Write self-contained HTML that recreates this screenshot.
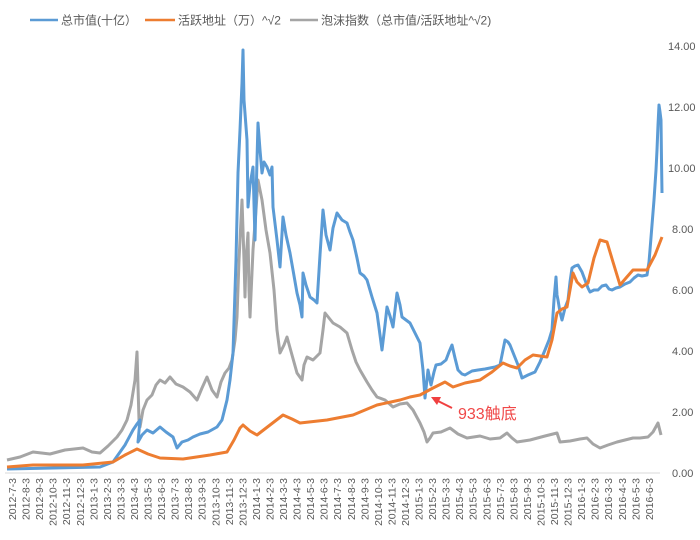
<!DOCTYPE html>
<html><head><meta charset="utf-8"><style>
body{margin:0;background:#fff;width:700px;height:540px;overflow:hidden}
svg{display:block}
text{font-family:"Liberation Sans","Noto Sans CJK SC",sans-serif}
</style></head><body>
<svg width="700" height="540" viewBox="0 0 700 540">
<g font-size="12" fill="#595959">
<line x1="30" y1="20" x2="58" y2="20" stroke="#5b9bd5" stroke-width="2.5"/>
<text x="61" y="24.5">总市值(十亿）</text>
<line x1="145" y1="20" x2="175" y2="20" stroke="#ed7d31" stroke-width="2.5"/>
<text x="178" y="24.5">活跃地址（万）^√2</text>
<line x1="290" y1="20" x2="318" y2="20" stroke="#a5a5a5" stroke-width="2.5"/>
<text x="321" y="24.5">泡沫指数（总市值/活跃地址^√2)</text>
</g>
<g font-size="11" fill="#595959" text-anchor="start">
<text x="668" y="50">14.00</text>
<text x="668" y="111">12.00</text>
<text x="668" y="172">10.00</text>
<text x="672" y="233">8.00</text>
<text x="672" y="294">6.00</text>
<text x="672" y="355">4.00</text>
<text x="672" y="416">2.00</text>
<text x="672" y="477">0.00</text>
</g>
<line x1="5" y1="473" x2="660" y2="473" stroke="#d9d9d9" stroke-width="1"/>
<g font-size="10.5" fill="#595959" text-anchor="end">
<text transform="translate(16,478) rotate(-90)">2012-7-3</text>
<text transform="translate(29.55,478) rotate(-90)">2012-8-3</text>
<text transform="translate(43.1,478) rotate(-90)">2012-9-3</text>
<text transform="translate(56.65,478) rotate(-90)">2012-10-3</text>
<text transform="translate(70.2,478) rotate(-90)">2012-11-3</text>
<text transform="translate(83.75,478) rotate(-90)">2012-12-3</text>
<text transform="translate(97.3,478) rotate(-90)">2013-1-3</text>
<text transform="translate(110.85,478) rotate(-90)">2013-2-3</text>
<text transform="translate(124.4,478) rotate(-90)">2013-3-3</text>
<text transform="translate(137.95,478) rotate(-90)">2013-4-3</text>
<text transform="translate(151.5,478) rotate(-90)">2013-5-3</text>
<text transform="translate(165.05,478) rotate(-90)">2013-6-3</text>
<text transform="translate(178.6,478) rotate(-90)">2013-7-3</text>
<text transform="translate(192.15,478) rotate(-90)">2013-8-3</text>
<text transform="translate(205.7,478) rotate(-90)">2013-9-3</text>
<text transform="translate(219.25,478) rotate(-90)">2013-10-3</text>
<text transform="translate(232.8,478) rotate(-90)">2013-11-3</text>
<text transform="translate(246.35,478) rotate(-90)">2013-12-3</text>
<text transform="translate(259.9,478) rotate(-90)">2014-1-3</text>
<text transform="translate(273.45,478) rotate(-90)">2014-2-3</text>
<text transform="translate(287,478) rotate(-90)">2014-3-3</text>
<text transform="translate(300.55,478) rotate(-90)">2014-4-3</text>
<text transform="translate(314.1,478) rotate(-90)">2014-5-3</text>
<text transform="translate(327.65,478) rotate(-90)">2014-6-3</text>
<text transform="translate(341.2,478) rotate(-90)">2014-7-3</text>
<text transform="translate(354.75,478) rotate(-90)">2014-8-3</text>
<text transform="translate(368.3,478) rotate(-90)">2014-9-3</text>
<text transform="translate(381.85,478) rotate(-90)">2014-10-3</text>
<text transform="translate(395.4,478) rotate(-90)">2014-11-3</text>
<text transform="translate(408.95,478) rotate(-90)">2014-12-3</text>
<text transform="translate(422.5,478) rotate(-90)">2015-1-3</text>
<text transform="translate(436.05,478) rotate(-90)">2015-2-3</text>
<text transform="translate(449.6,478) rotate(-90)">2015-3-3</text>
<text transform="translate(463.15,478) rotate(-90)">2015-4-3</text>
<text transform="translate(476.7,478) rotate(-90)">2015-5-3</text>
<text transform="translate(490.25,478) rotate(-90)">2015-6-3</text>
<text transform="translate(503.8,478) rotate(-90)">2015-7-3</text>
<text transform="translate(517.35,478) rotate(-90)">2015-8-3</text>
<text transform="translate(530.9,478) rotate(-90)">2015-9-3</text>
<text transform="translate(544.45,478) rotate(-90)">2015-10-3</text>
<text transform="translate(558,478) rotate(-90)">2015-11-3</text>
<text transform="translate(571.55,478) rotate(-90)">2015-12-3</text>
<text transform="translate(585.1,478) rotate(-90)">2016-1-3</text>
<text transform="translate(598.65,478) rotate(-90)">2016-2-3</text>
<text transform="translate(612.2,478) rotate(-90)">2016-3-3</text>
<text transform="translate(625.75,478) rotate(-90)">2016-4-3</text>
<text transform="translate(639.3,478) rotate(-90)">2016-5-3</text>
<text transform="translate(652.85,478) rotate(-90)">2016-6-3</text>
</g>
<polyline fill="none" stroke="#a5a5a5" stroke-width="3" stroke-linejoin="round" points="7,460 20,457 33,452 50,454 65,450 83,448 92,452 100,453 108,446 117,437 122,430 127,420 131,405 135,380 137,352 139,420 140,427 143,410 147,400 152,395 156,385 160,380 165,383 170,377 176,384 183,387 190,392 197,400 202,388 207,377 212,390 217,397 221,382 225,373 229,368 232,360 235,340 237,317 239,260 242,200 244,260 245,297 246,260 248,233 249,290 250,317 253,250 256,210 258,180 262,200 266,230 270,253 274,290 277,330 280,353 284,345 287,337 292,355 297,373 302,380 304,365 307,357 313,360 320,353 323,330 325,313 329,318 333,323 340,327 347,333 352,350 356,362 360,370 367,382 372,390 377,397 385,400 393,407 400,404 407,403 413,410 420,423 424,432 427,442 430,438 433,433 441,432 450,428 458,434 467,438 480,436 490,439 500,438 507,433 512,438 517,442 530,440 545,436 557,433 560,442 570,441 580,439 587,438 593,444 600,448 608,445 617,442 625,440 633,438 640,438 648,437 653,432 658,423 661,435"/>
<polyline fill="none" stroke="#5b9bd5" stroke-width="3" stroke-linejoin="round" points="7,469 100,467 113,462 125,445 133,430 137,424 140,420 138,442 142,435 147,430 153,433 160,427 166,432 173,437 177,448 182,442 188,440 193,437 200,434 208,432 217,427 222,420 227,400 230,380 233,353 236,260 238,173 240,130 242,83 243,50 244,100 247,140 248,207 250,185 253,167 255,240 257,160 258,123 260,150 262,173 264,162 267,167 270,175 272,167 273,207 277,240 280,267 283,217 286,235 290,253 293,270 297,293 300,305 302,317 303,273 306,285 310,297 314,300 317,303 320,255 323,210 326,235 330,250 333,228 337,213 342,220 347,223 350,232 353,240 357,258 360,273 364,276 367,280 372,297 377,313 380,335 382,350 385,325 387,307 390,316 393,327 397,293 400,305 402,317 406,320 410,323 415,333 420,343 423,370 425,398 428,370 431,385 434,372 436,365 441,364 446,360 449,352 452,345 455,358 458,370 462,374 465,375 472,371 478,370 485,369 490,368 495,367 500,365 503,350 505,340 508,342 510,345 514,355 518,365 522,378 528,375 535,372 540,362 545,350 549,340 552,330 554,300 556,277 557,295 558,300 560,312 562,320 565,308 568,300 570,282 572,268 575,266 578,265 582,272 585,280 588,288 590,292 594,290 598,290 602,286 606,285 609,289 612,290 616,288 620,287 625,284 630,282 634,278 638,275 642,276 647,275 649,262 650,250 652,225 654,200 656,170 657,150 658,125 659,105 660,112 661,120 661.5,160 662,193"/>
<polyline fill="none" stroke="#ed7d31" stroke-width="3" stroke-linejoin="round" points="7,467 33,465 83,465 113,462 125,455 137,449 148,454 160,458 183,459 210,455 227,452 234,440 240,428 243,425 250,431 257,435 270,425 283,415 292,419 300,423 327,420 353,415 377,405 400,400 410,397 420,395 433,388 445,382 453,387 465,383 480,380 492,372 503,363 510,366 517,368 525,360 533,355 540,356 547,357 552,340 557,313 562,309 567,307 570,290 573,273 577,282 582,287 588,283 594,258 600,240 607,242 613,262 620,285 626,278 633,270 640,270 647,270 655,255 662,237"/>
<g stroke="#f04040" fill="#f04040">
<line x1="452" y1="408" x2="436" y2="400" stroke-width="2"/>
<polygon points="431,397 441,397 437,405" stroke="none"/>
</g>
<text x="458" y="419" font-size="16" fill="#f04848">933触底</text>
</svg>
</body></html>
